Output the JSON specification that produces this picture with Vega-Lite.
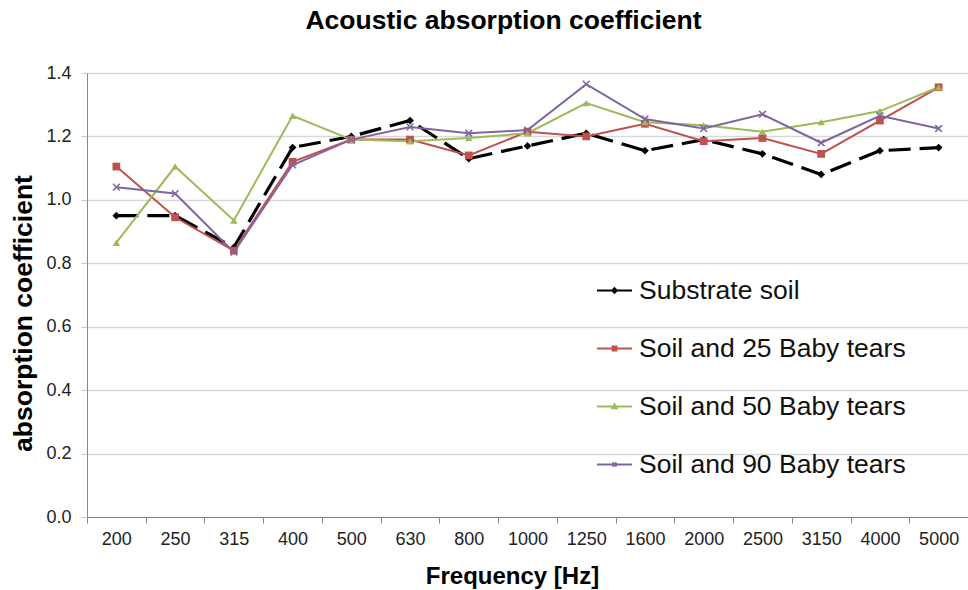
{
  "$schema": "https://vega.github.io/schema/vega-lite/v6.json",
  "width": 881,
  "height": 444,
  "autosize": {"type": "none"},
  "padding": {"left": 87, "top": 73, "right": 0, "bottom": 73},
  "background": "white",
  "title": {"text": "Acoustic absorption coefficient", "font": "Liberation Sans", "fontSize": 26.5, "fontWeight": "bold", "color": "#000000", "anchor": "middle", "offset": 30, "dx": -24},
  "config": {
    "view": {"stroke": null},
    "font": "Liberation Sans"
  },
  "data": {"values": [
    {"f": "200", "s": "Substrate soil", "v": 0.95},
    {"f": "250", "s": "Substrate soil", "v": 0.95},
    {"f": "315", "s": "Substrate soil", "v": 0.85},
    {"f": "400", "s": "Substrate soil", "v": 1.165},
    {"f": "500", "s": "Substrate soil", "v": 1.2},
    {"f": "630", "s": "Substrate soil", "v": 1.25},
    {"f": "800", "s": "Substrate soil", "v": 1.13},
    {"f": "1000", "s": "Substrate soil", "v": 1.17},
    {"f": "1250", "s": "Substrate soil", "v": 1.21},
    {"f": "1600", "s": "Substrate soil", "v": 1.155},
    {"f": "2000", "s": "Substrate soil", "v": 1.19},
    {"f": "2500", "s": "Substrate soil", "v": 1.145},
    {"f": "3150", "s": "Substrate soil", "v": 1.08},
    {"f": "4000", "s": "Substrate soil", "v": 1.155},
    {"f": "5000", "s": "Substrate soil", "v": 1.165},
    {"f": "200", "s": "Soil and 25 Baby tears", "v": 1.105},
    {"f": "250", "s": "Soil and 25 Baby tears", "v": 0.945},
    {"f": "315", "s": "Soil and 25 Baby tears", "v": 0.84},
    {"f": "400", "s": "Soil and 25 Baby tears", "v": 1.12},
    {"f": "500", "s": "Soil and 25 Baby tears", "v": 1.19},
    {"f": "630", "s": "Soil and 25 Baby tears", "v": 1.19},
    {"f": "800", "s": "Soil and 25 Baby tears", "v": 1.14},
    {"f": "1000", "s": "Soil and 25 Baby tears", "v": 1.215},
    {"f": "1250", "s": "Soil and 25 Baby tears", "v": 1.2},
    {"f": "1600", "s": "Soil and 25 Baby tears", "v": 1.24},
    {"f": "2000", "s": "Soil and 25 Baby tears", "v": 1.185},
    {"f": "2500", "s": "Soil and 25 Baby tears", "v": 1.195},
    {"f": "3150", "s": "Soil and 25 Baby tears", "v": 1.145},
    {"f": "4000", "s": "Soil and 25 Baby tears", "v": 1.25},
    {"f": "5000", "s": "Soil and 25 Baby tears", "v": 1.355},
    {"f": "200", "s": "Soil and 50 Baby tears", "v": 0.865},
    {"f": "250", "s": "Soil and 50 Baby tears", "v": 1.105},
    {"f": "315", "s": "Soil and 50 Baby tears", "v": 0.935},
    {"f": "400", "s": "Soil and 50 Baby tears", "v": 1.265},
    {"f": "500", "s": "Soil and 50 Baby tears", "v": 1.19},
    {"f": "630", "s": "Soil and 50 Baby tears", "v": 1.185},
    {"f": "800", "s": "Soil and 50 Baby tears", "v": 1.195},
    {"f": "1000", "s": "Soil and 50 Baby tears", "v": 1.21},
    {"f": "1250", "s": "Soil and 50 Baby tears", "v": 1.305},
    {"f": "1600", "s": "Soil and 50 Baby tears", "v": 1.245},
    {"f": "2000", "s": "Soil and 50 Baby tears", "v": 1.235},
    {"f": "2500", "s": "Soil and 50 Baby tears", "v": 1.215},
    {"f": "3150", "s": "Soil and 50 Baby tears", "v": 1.245},
    {"f": "4000", "s": "Soil and 50 Baby tears", "v": 1.28},
    {"f": "5000", "s": "Soil and 50 Baby tears", "v": 1.355},
    {"f": "200", "s": "Soil and 90 Baby tears", "v": 1.04},
    {"f": "250", "s": "Soil and 90 Baby tears", "v": 1.02},
    {"f": "315", "s": "Soil and 90 Baby tears", "v": 0.835},
    {"f": "400", "s": "Soil and 90 Baby tears", "v": 1.11},
    {"f": "500", "s": "Soil and 90 Baby tears", "v": 1.19},
    {"f": "630", "s": "Soil and 90 Baby tears", "v": 1.23},
    {"f": "800", "s": "Soil and 90 Baby tears", "v": 1.21},
    {"f": "1000", "s": "Soil and 90 Baby tears", "v": 1.22},
    {"f": "1250", "s": "Soil and 90 Baby tears", "v": 1.365},
    {"f": "1600", "s": "Soil and 90 Baby tears", "v": 1.255},
    {"f": "2000", "s": "Soil and 90 Baby tears", "v": 1.225},
    {"f": "2500", "s": "Soil and 90 Baby tears", "v": 1.27},
    {"f": "3150", "s": "Soil and 90 Baby tears", "v": 1.18},
    {"f": "4000", "s": "Soil and 90 Baby tears", "v": 1.265},
    {"f": "5000", "s": "Soil and 90 Baby tears", "v": 1.225}
  ]},
  "encoding": {
    "x": {
      "field": "f", "type": "nominal",
      "sort": ["200","250","315","400","500","630","800","1000","1250","1600","2000","2500","3150","4000","5000"],
      "scale": {"paddingInner": 0, "paddingOuter": 0},
      "axis": {
        "title": "Frequency [Hz]", "titleFont": "Liberation Sans", "titleFontSize": 24, "titleFontWeight": "bold", "titleColor": "#000000", "titlePadding": 16, "titleX": 425,
        "labelAngle": 0, "labelFontSize": 18, "labelColor": "#222222", "labelPadding": 7,
        "tickBand": "extent", "ticks": true, "tickSize": 6, "tickColor": "#868686",
        "domainColor": "#868686", "grid": false
      }
    },
    "y": {
      "field": "v", "type": "quantitative",
      "scale": {"domain": [0, 1.4], "nice": false},
      "axis": {
        "title": "absorption coefficient", "titleFont": "Liberation Sans", "titleFontSize": 26.5, "titleFontWeight": "bold", "titleColor": "#000000", "titlePadding": 8, "titleY": 240,
        "values": [0, 0.2, 0.4, 0.6, 0.8, 1.0, 1.2, 1.4], "format": ".1f",
        "labelFontSize": 18, "labelColor": "#222222", "labelPadding": 10,
        "tickSize": 6, "tickColor": "#c8c8c8", "domainColor": "#868686",
        "grid": true, "gridColor": "#d9d9d9", "gridWidth": 1.5
      }
    }
  },
  "layer": [
    {
      "transform": [{"filter": "datum.s == 'Substrate soil'"}],
      "mark": {"type": "line", "color": "#000000", "strokeDash": [22, 9], "strokeWidth": 3.2}
    },
    {
      "transform": [{"filter": "datum.s != 'Substrate soil'"}],
      "mark": {"type": "line", "strokeWidth": 2},
      "encoding": {
        "color": {
          "field": "s", "type": "nominal",
          "scale": {"domain": ["Substrate soil","Soil and 25 Baby tears","Soil and 50 Baby tears","Soil and 90 Baby tears"], "range": ["#000000","#c0504d","#9bbb59","#8064a2"]},
          "legend": {
            "title": null, "orient": "none", "legendX": 509, "legendY": 199,
            "labelFontSize": 26.5, "labelColor": "#111111", "labelFont": "Liberation Sans", "labelLimit": 500,
            "symbolSize": 1225, "symbolStrokeWidth": 2, "rowPadding": 26, "labelOffset": 6,
            "encode": {
              "symbols": {"update": {
                "shape": {"signal": "datum.value == 'Substrate soil' ? 'M-1,0H1M0,-0.13L0.13,0L0,0.13L-0.13,0Z' : datum.value == 'Soil and 25 Baby tears' ? 'M-1,0H1M-0.11,-0.11H0.11V0.11H-0.11Z' : datum.value == 'Soil and 50 Baby tears' ? 'M-1,0H1M0,-0.12L0.12,0.1H-0.12Z' : 'M-1,0H1M-0.11,-0.11L0.11,0.11M-0.11,0.11L0.11,-0.11'"},
                "fill": {"signal": "scale('color', datum.value)"},
                "stroke": {"signal": "scale('color', datum.value)"},
                "strokeWidth": {"value": 2}
              }}
            }
          }
        }
      }
    },
    {
      "transform": [{"filter": "datum.s == 'Substrate soil'"}],
      "mark": {"type": "point", "shape": "diamond", "filled": true, "color": "#000000", "size": 60, "opacity": 1}
    },
    {
      "transform": [{"filter": "datum.s == 'Soil and 25 Baby tears'"}],
      "mark": {"type": "point", "shape": "square", "filled": true, "color": "#c0504d", "size": 60, "opacity": 1}
    },
    {
      "transform": [{"filter": "datum.s == 'Soil and 50 Baby tears'"}],
      "mark": {"type": "point", "shape": "triangle-up", "filled": true, "color": "#9bbb59", "size": 55, "opacity": 1}
    },
    {
      "transform": [{"filter": "datum.s == 'Soil and 90 Baby tears'"}],
      "mark": {"type": "point", "shape": "M-1,-1L1,1M-1,1L1,-1", "filled": false, "color": "#8064a2", "strokeWidth": 1.5, "size": 45, "opacity": 1}
    }
  ]
}
